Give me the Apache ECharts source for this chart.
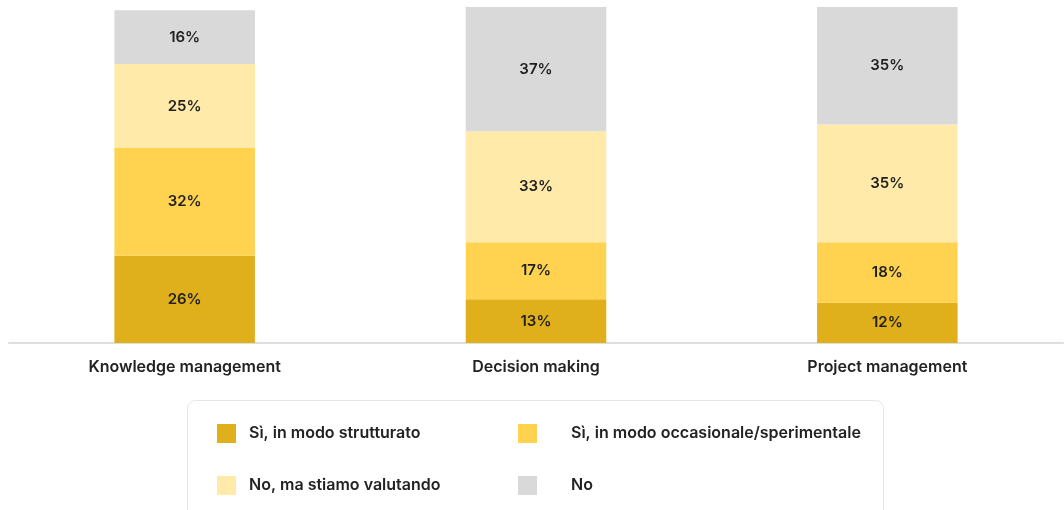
<!DOCTYPE html>
<html>
<head>
<meta charset="utf-8">
<style>
  html, body { margin: 0; padding: 0; background: #ffffff; }
  #chart { width: 1064px; height: 510px; }
</style>
<script src="https://cdn.jsdelivr.net/npm/echarts@6/dist/echarts.min.js"></script>
</head>
<body>
<div id="chart"></div>
<script>
// Survey categories and answer shares (percent)
const categories = ['Knowledge management', 'Decision making', 'Project management'];
const seriesNames = [
  'Sì, in modo strutturato',
  'Sì, in modo occasionale/sperimentale',
  'No, ma stiamo valutando',
  'No'
];
const structured = [26, 13, 12];
const occasional = [32, 17, 18];
const evaluating = [25, 33, 35];
const no = [16, 37, 35];
const colors = ['#E0B01C', '#FFD24F', '#FFEAA9', '#D9D9D9'];

const values = [structured, occasional, evaluating, no];
const FONT = 'Inter, "Noto Sans", sans-serif';

const chart = echarts.init(document.getElementById('chart'));

const series = seriesNames.map((name, i) => ({
  name,
  type: 'bar',
  stack: 'total',
  barWidth: '40%',
  data: values[i],
  itemStyle: { color: colors[i] },
  label: {
    show: true,
    position: 'inside',
    formatter: p => p.value + '%',
    color: '#1f1f1f',
    fontFamily: FONT,
    fontSize: 15,
    fontWeight: 600
  },
  emphasis: { disabled: true }
}));

// One legend block per entry so each can sit in its own cell of the framed key
const legendCell = (name, left, top, gap) => ({
  data: [name],
  left, top,
  orient: 'horizontal',
  itemWidth: 19,
  itemHeight: 19,
  icon: 'rect',
  selectedMode: false,
  padding: 0,
  textStyle: {
    color: '#222222',
    fontFamily: FONT,
    fontSize: 16,
    fontWeight: 600,
    padding: [2, 0, 0, gap]
  }
});

chart.setOption({
  animation: false,
  grid: { left: 9, right: 1, top: 7, bottom: 167, containLabel: false },
  xAxis: {
    type: 'category',
    data: categories,
    axisLine: { lineStyle: { color: '#DEDEDE', width: 2 } },
    axisTick: { show: false },
    axisLabel: {
      color: '#222222',
      fontFamily: FONT,
      fontSize: 16,
      fontWeight: 600,
      margin: 16
    }
  },
  yAxis: {
    type: 'value',
    min: 0,
    max: 100,
    show: false,
    splitLine: { show: false }
  },
  legend: [
    legendCell(seriesNames[0], 217, 424, 8),
    legendCell(seriesNames[1], 518, 424, 29),
    legendCell(seriesNames[2], 217, 476, 8),
    legendCell(seriesNames[3], 518, 476, 29)
  ],
  graphic: [{
    type: 'rect',
    left: 187,
    top: 400,
    shape: { width: 696, height: 130, r: 8 },
    style: { fill: '#ffffff', stroke: '#E6E6E6', lineWidth: 1 },
    z: -1
  }],
  series
});
</script>
</body>
</html>
